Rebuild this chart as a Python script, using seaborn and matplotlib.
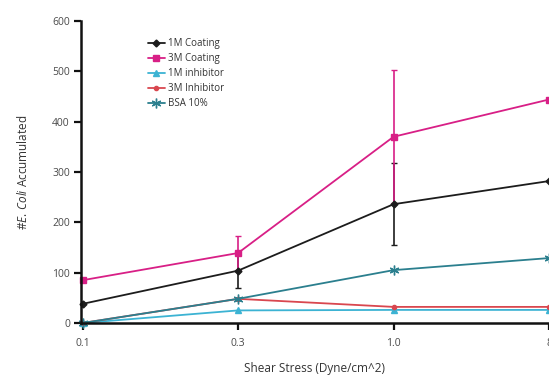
import numpy as np
import pandas as pd
import seaborn as sns
import matplotlib
matplotlib.use("Agg")
import matplotlib.pyplot as plt

# Shear stress levels (Dyne/cm^2)
shear = ["0.1", "0.3", "1.0", "8"]

# Accumulated E. coli counts per condition
coat_1m = [38, 104, 236, 282]
coat_3m = [85, 139, 370, 444]
inhib_1m = [0, 25, 26, 26]
inhib_3m = [0, 48, 32, 32]
bsa_10 = [0, 48, 105, 129]

# Error (+/-) for the coating series
coat_1m_err = [0, 35, 82, 0]
coat_3m_err = [0, 33, 132, 0]

series_names = ["1M Coating", "3M Coating", "1M inhibitor", "3M Inhibitor", "BSA 10%"]
series_vals = [coat_1m, coat_3m, inhib_1m, inhib_3m, bsa_10]

rows = []
for name, vals in zip(series_names, series_vals):
    for s, v in zip(shear, vals):
        rows.append({"Shear": s, "Count": v, "Series": name})
df = pd.DataFrame(rows)

sns.set_style("white")
plt.rcParams["font.family"] = ["Open Sans", "DejaVu Sans"]
plt.rcParams["mathtext.fontset"] = "custom"
plt.rcParams["mathtext.rm"] = "Open Sans"
plt.rcParams["mathtext.it"] = "Open Sans:italic"

palette = {
    "1M Coating": "#1c1c1c",
    "3M Coating": "#d81f86",
    "1M inhibitor": "#3cb3d3",
    "3M Inhibitor": "#d9474f",
    "BSA 10%": "#2b7f8e",
}
markers = {
    "1M Coating": "D",
    "3M Coating": "s",
    "1M inhibitor": "^",
    "3M Inhibitor": "o",
    "BSA 10%": (6, 2, 0),
}
sizes = {
    "1M Coating": 3.5,
    "3M Coating": 5,
    "1M inhibitor": 4.5,
    "3M Inhibitor": 3,
    "BSA 10%": 7,
}

fig = plt.figure(figsize=(5.49, 3.79), dpi=100)
ax = fig.add_axes([81 / 549, 56 / 379, 468 / 549, 302 / 379])

for name in series_names:
    sub = df[df["Series"] == name]
    sns.lineplot(
        data=sub, x="Shear", y="Count", color=palette[name], label=name,
        marker=markers[name], markersize=sizes[name], markeredgewidth=1.0,
        markeredgecolor=palette[name], linewidth=1.3, sort=False, ax=ax,
        clip_on=False, zorder=3,
    )

xpos = np.arange(len(shear))
for vals, err, name in [(coat_1m, coat_1m_err, "1M Coating"),
                        (coat_3m, coat_3m_err, "3M Coating")]:
    err = np.array(err, dtype=float)
    mask = err > 0
    ax.errorbar(xpos[mask], np.array(vals)[mask], yerr=err[mask], fmt="none",
                ecolor=palette[name], elinewidth=1.2, capsize=2, capthick=1.0,
                zorder=2)

ax.set_xlim(-0.01, 3.0)
ax.set_ylim(0, 600)
ax.set_yticks(range(0, 601, 100))

sns.despine(ax=ax)
for sp in ["left", "bottom"]:
    ax.spines[sp].set_linewidth(1.8)
    ax.spines[sp].set_color("#111111")
    ax.spines[sp].set_zorder(4)

ax.tick_params(axis="both", which="major", direction="out", length=5, width=1.6,
               color="#111111", labelsize=7.5, labelcolor="#4a4a4a", pad=3,
               left=True, bottom=True)
ax.tick_params(axis="x", pad=6)

ax.set_xlabel("Shear Stress (Dyne/cm^2)", fontsize=8.5, color="#333333", labelpad=9)
ax.set_ylabel(r"#$\mathit{E.\,Coli}$ Accumulated", fontsize=8.5, color="#333333",
              labelpad=16)

leg = ax.legend(loc="upper left", bbox_to_anchor=(0.135, 0.955), frameon=False,
                fontsize=7, handlelength=1.7, handletextpad=0.3,
                labelspacing=0.4, borderaxespad=0)
for t in leg.get_texts():
    t.set_color("#333333")

fig.savefig("out.png", dpi=100)
